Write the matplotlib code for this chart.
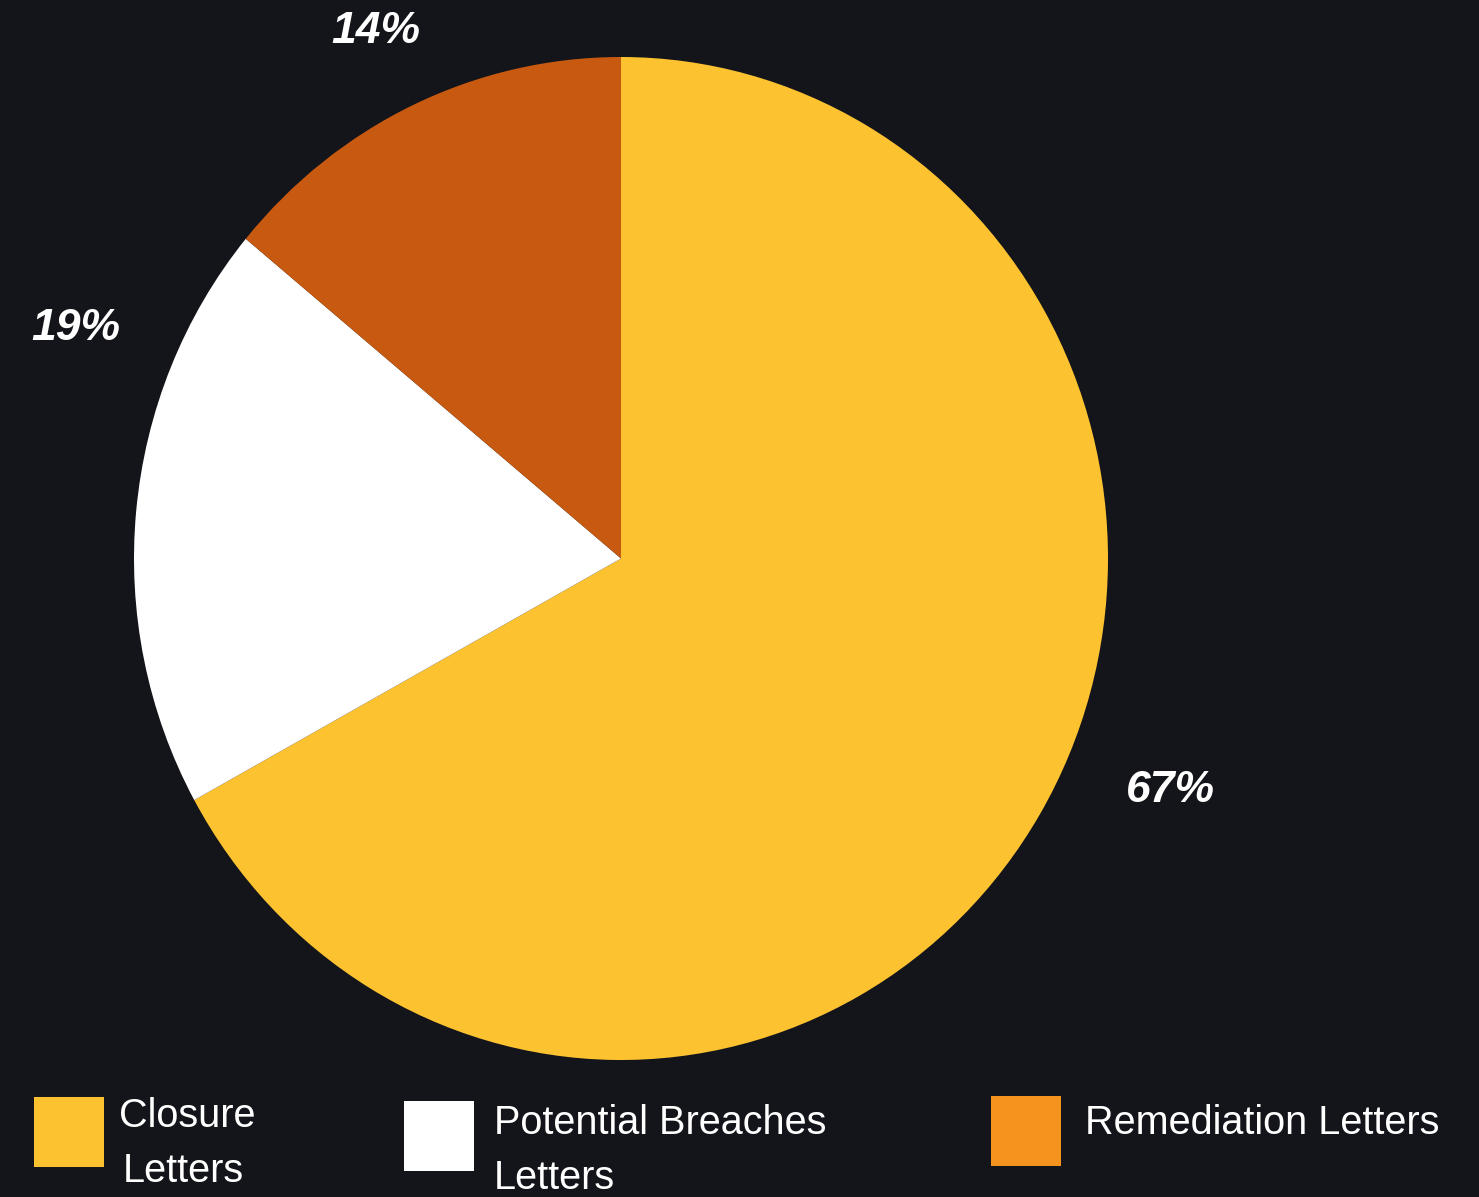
import numpy as np
import matplotlib.pyplot as plt
from matplotlib.patches import Rectangle

# data
labels = ["Closure\nLetters", "Potential Breaches\nLetters", "Remediation Letters"]
shares = [67, 19, 14]
pie_colors = ["#FCC230", "#FFFFFF", "#C75A10"]
legend_colors = ["#FCC230", "#FFFFFF", "#F5931F"]
pct_labels = ["67%", "19%", "14%"]

bg = "#14151A"

fig = plt.figure(figsize=(14.79, 11.97), dpi=100, facecolor=bg)

# pie axes (slightly taller than wide, like the reference)
ax = fig.add_axes([134 / 1479, 137 / 1197, 974 / 1479, 1003 / 1197])
ax.set_facecolor(bg)
wedges, _ = ax.pie(shares, colors=pie_colors, startangle=90, counterclock=False,
                   wedgeprops=dict(linewidth=0))
ax.set_aspect("auto")
ax.set_xlim(-1, 1)
ax.set_ylim(-1, 1)
ax.axis("off")

# percentage labels: (radius, angle) positions around the pie
label_pos = [(1.22, -22.3), (1.21, 157.7), (1.165, 115.6)]
for txt, (r, a) in zip(pct_labels, label_pos):
    ax.text(r * np.cos(np.radians(a)), r * np.sin(np.radians(a)), txt,
            ha="center", va="center", color="white", fontsize=32,
            fontweight="bold", fontstyle="italic", family="Liberation Sans",
            clip_on=False)

# legend drawn by hand
W, H = 1479, 1197
box_pos = [(34, 1097), (404, 1101), (991, 1096)]
text_pos = [(119, 1116), (494, 1123), (1085, 1123)]
for col, (bx, by), (tx, ty), lab in zip(legend_colors, box_pos, text_pos, labels):
    fig.add_artist(Rectangle((bx / W, 1 - (by + 70) / H), 70 / W, 70 / H,
                             transform=fig.transFigure, facecolor=col,
                             edgecolor="none"))
    for i, line in enumerate(lab.split("\n")):
        fig.text(tx / W + (4 / W if (i and lab.startswith("Closure")) else 0),
                 1 - (ty + 55 * i) / H, line, ha="left", va="center",
                 color="white", fontsize=28.5, family="Liberation Sans")

fig.savefig("out.png", dpi=100, facecolor=bg)
